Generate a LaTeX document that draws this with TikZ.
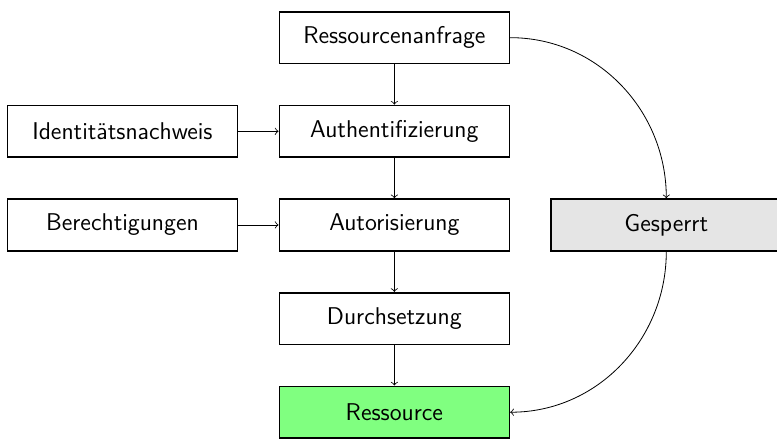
\documentclass[tikz,border=0pt]{standalone}
\usetikzlibrary{positioning}
\renewcommand{\familydefault}{\sfdefault}
\tikzset{
	stufe/.style={draw, thick, minimum width=4cm, minimum height=0.9cm, font=\large},
	pfeil/.style={->, thin},
}
\begin{document}
\begin{tikzpicture}[node distance=0.7cm]
		\useasboundingbox (0,0) rectangle (13.51,-7.635);
		\node[stufe] (anfrage) at (6.857,-0.655) {Ressourcenanfrage};
		\node[stufe, below=of anfrage] (authn) {Authentifizierung};
		\node[stufe, below=of authn] (authz) {Autorisierung};
		\node[stufe, below=of authz] (durch) {Durchsetzung};
		\node[stufe, below=of durch, fill=green!50] (ressource) {Ressource};
		\node[stufe, left=of authn] (ident) {Identitätsnachweis};
		\node[stufe, left=of authz] (recht) {Berechtigungen};
		\node[stufe, right=of authz, fill=gray!20] (gesperrt) {Gesperrt};

		\draw[pfeil] (anfrage) -- (authn);
		\draw[pfeil] (authn) -- (authz);
		\draw[pfeil] (authz) -- (durch);
		\draw[pfeil] (durch) -- (ressource);
		\draw[pfeil] (ident) -- (authn);
		\draw[pfeil] (recht) -- (authz);
		\draw[pfeil] (anfrage.east) to[out=0, in=90] (gesperrt.north);
		\draw[pfeil] (gesperrt.south) to[out=-90, in=0] (ressource.east);
	\end{tikzpicture}
\end{document}
